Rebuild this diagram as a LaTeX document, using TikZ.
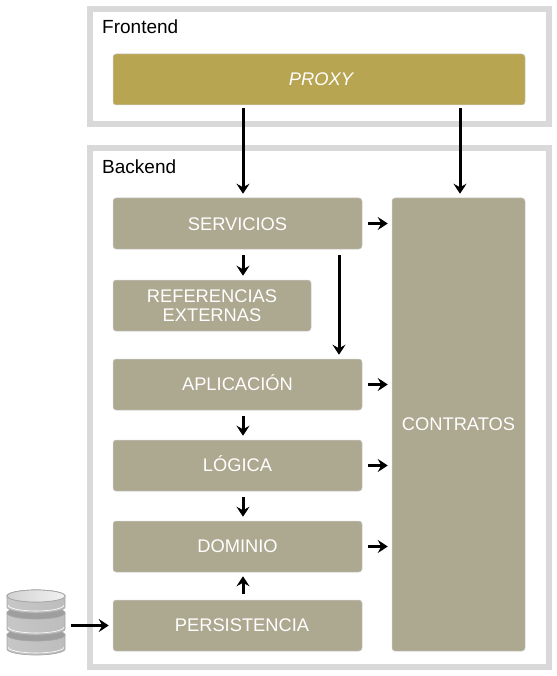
\documentclass[tikz,border=0pt]{standalone}
\usepackage{fontspec}
\setmainfont{Liberation Sans}
\usetikzlibrary{arrows.meta}
\definecolor{framegray}{HTML}{D9D9D9}
\definecolor{boxtaupe}{HTML}{ADA890}
\definecolor{boxgold}{HTML}{B8A552}
\begin{document}
\begin{tikzpicture}[x=1pt, y=-1pt,
    frame/.style={draw=framegray, line width=6pt},
    title/.style={anchor=west, inner sep=0pt, font=\fontsize{19pt}{20pt}\selectfont},
    layer/.style={draw=black!20, line width=.5pt, fill=boxtaupe, rounded corners=3pt, text=white, align=center,
      inner sep=0pt, font=\fontsize{18.3pt}{20pt}\selectfont},
    disc/.style={draw=black!35, line width=.7pt, left color=black!22, middle color=black!6, right color=black!26},
    link/.style={-{Stealth[length=10pt, width=13pt, inset=3.5pt]}, line width=3pt}]
  \useasboundingbox (0,0) rectangle (556,676);

  \draw [frame] (90,9) rectangle (549,124);
  \draw [frame] (90,148) rectangle (549,667);
  \node [title] (frontend) at (102,26.5) {Frontend};
  \node [title] (backend) at (102,166.5) {Backend};

  \begin{scope}[every node/.style={layer}]
    \node [minimum width=412pt, minimum height=51pt, fill=boxgold] (proxy) at (319,79.5) {\hspace*{4pt}\itshape PROXY};
    \node [minimum width=249pt, minimum height=51pt, text height=14pt, text depth=0pt] (servicios) at (237.5,223.5) {SERVICIOS};
    \node [minimum width=198pt, minimum height=51pt] (referencias) at (212,305.5) {REFERENCIAS\\[-1pt]EXTERNAS};
    \node [minimum width=249pt, minimum height=51pt, text height=11pt, text depth=0pt] (aplicacion) at (237.5,384.5) {APLICACIÓN};
    \node [minimum width=249pt, minimum height=51pt, text height=11pt, text depth=0pt] (logica) at (237.5,465.5) {LÓGICA};
    \node [minimum width=249pt, minimum height=51pt] (dominio) at (237.5,546.5) {DOMINIO};
    \node [minimum width=249pt, minimum height=51pt] (persistencia) at (237.5,625.5) {\hspace*{9pt}PERSISTENCIA};
    \node [minimum width=133pt, minimum height=453pt] (contratos) at (458.5,424.5) {CONTRATOS};
  \end{scope}

  % stack of discs
  \foreach \ytop/\ybot in {635/649, 613/629, 596/607} {
    \draw [disc] (7,\ytop) -- (7,\ybot) arc [start angle=180, end angle=360, x radius=29pt, y radius=6pt]
      -- (65,\ytop) arc [start angle=0, end angle=180, x radius=29pt, y radius=6pt] -- cycle;
    \draw [white, line width=.6pt] (8,\ybot-2) arc [start angle=180, end angle=360, x radius=28pt, y radius=6pt];
    \draw [draw=black!35, line width=.7pt, fill=black!38] (36,\ytop) ellipse [x radius=29pt, y radius=6pt];
  }
  \draw [draw=black!35, line width=.7pt, left color=black!18, right color=black!5] (36,596) ellipse [x radius=29pt, y radius=6pt];
  \node [minimum width=58pt, minimum height=65pt, inner sep=0pt] (db) at (36,622.5) {};

  \coordinate (inA) at (243,0);
  \coordinate (inB) at (339,0);
  \coordinate (inC) at (460,0);
  \begin{scope}[link, shorten <=3pt, shorten >=4pt]
    \draw (proxy.south -| inA) -- (servicios.north -| inA);
    \draw (proxy.south -| inC) -- (contratos.north -| inC);
  \end{scope}
  \begin{scope}[link, shorten <=6pt, shorten >=4pt]
    \draw (servicios.south -| inA) -- (referencias.north -| inA);
    \draw (servicios.south -| inB) -- (aplicacion.north -| inB);
    \draw (aplicacion.south -| inA) -- (logica.north -| inA);
    \draw (logica.south -| inA) -- (dominio.north -| inA);
    \draw (persistencia.north -| inA) -- (dominio.south -| inA);
    \draw (servicios.east) -- (servicios.east -| contratos.west);
    \draw (aplicacion.east) -- (aplicacion.east -| contratos.west);
    \draw (logica.east) -- (logica.east -| contratos.west);
    \draw (dominio.east) -- (dominio.east -| contratos.west);
    \draw (db.east |- persistencia.west) -- (persistencia.west);
  \end{scope}
\end{tikzpicture}
\end{document}
